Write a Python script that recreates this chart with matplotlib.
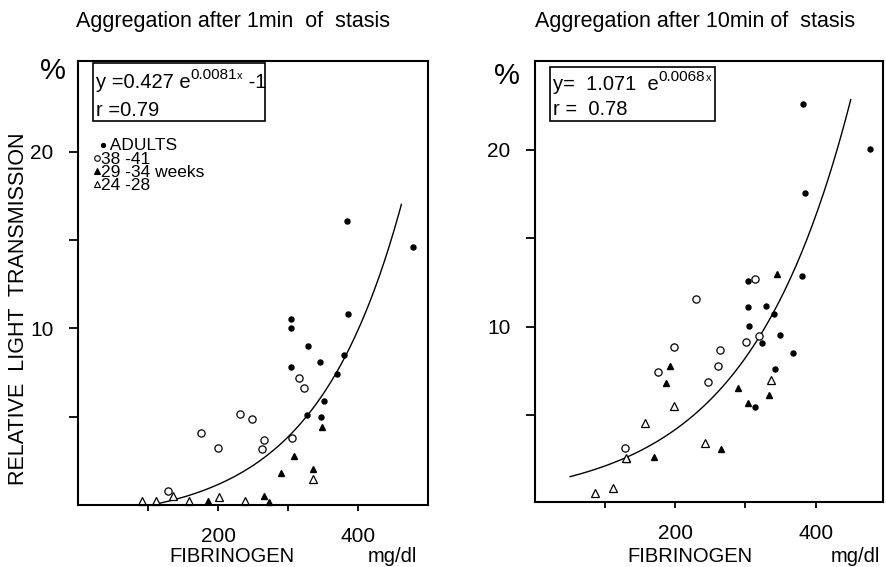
import matplotlib
matplotlib.use("Agg")
import matplotlib.pyplot as plt
import numpy as np
from matplotlib.lines import Line2D
from matplotlib.patches import Rectangle

plt.rcParams['font.family'] = ['Liberation Sans', 'DejaVu Sans']

# ---------------- data: left panel (1 min stasis) ----------------
L_adult_x = [304, 304, 329, 346, 304, 386, 380, 370, 351, 327, 347, 384, 479]
L_adult_y = [10.5, 10.0, 9.0, 8.1, 7.8, 10.8, 8.5, 7.4, 5.9, 5.1, 5.0, 16.1, 14.6]
L_term_x = [315, 323, 231, 248, 176, 200, 266, 263, 306, 128]
L_term_y = [7.2, 6.6, 5.15, 4.85, 4.05, 3.25, 3.7, 3.15, 3.8, 0.8]
L_mid_x = [348, 308, 290, 335, 266, 273, 185]
L_mid_y = [4.4, 2.8, 1.8, 2.05, 0.5, 0.15, 0.2]
L_pre_x = [335, 202, 136, 91, 111, 159, 238]
L_pre_y = [1.45, 0.47, 0.5, 0.2, 0.2, 0.2, 0.2]
# fitted curve y = a*exp(b*x) + c, coefficients as printed on the chart
L_fit = (0.427, 0.0081, -1.0)
L_fit_range = (117, 462)

# ---------------- data: right panel (10 min stasis) ----------------
R_adult_x = [303, 303, 329, 340, 305, 349, 324, 368, 342, 314, 382, 478, 385, 380]
R_adult_y = [12.6, 11.1, 11.15, 10.7, 10.05, 9.55, 9.05, 8.5, 7.6, 5.45, 22.6, 20.05, 17.55, 12.85]
R_term_x = [314, 229, 319, 301, 263, 198, 175, 261, 246, 128]
R_term_y = [12.7, 11.55, 9.45, 9.15, 8.7, 8.85, 7.4, 7.75, 6.85, 3.15]
R_mid_x = [345, 193, 187, 289, 304, 334, 265, 170, 131]
R_mid_y = [13.0, 7.75, 6.8, 6.5, 5.7, 6.1, 3.05, 2.6, 2.5]
R_pre_x = [336, 198, 157, 242, 86, 111, 130]
R_pre_y = [7.0, 5.5, 4.55, 3.4, 0.6, 0.85, 2.55]
R_fit = (1.071, 0.0068, 0.0)
R_fit_range = (50, 450)

legend_labels = ['ADULTS', '38 -41', '29 -34 weeks', '24 -28']

x_ticks = [100, 200, 300, 400]
x_ticklabels = ['', '200', '', '400']
y_ticks = [5, 10, 15, 20]
y_ticklabels = ['', '10', '', '20']

W, H = 886, 567
fig = plt.figure(figsize=(W / 100, H / 100), dpi=100)


def fx(px):
    return px / W


def fy(py):
    return 1 - py / H


def style_axes(ax, xmax, ylim):
    ax.set_xlim(0, xmax)
    ax.set_ylim(*ylim)
    for s in ax.spines.values():
        s.set_linewidth(1.5)
    ax.set_xticks(x_ticks)
    ax.set_xticklabels(x_ticklabels)
    ax.set_yticks(y_ticks)
    ax.set_yticklabels(y_ticklabels)
    ax.tick_params(axis='x', direction='out', length=4, width=1.3, pad=12, labelsize=15)
    ax.tick_params(axis='y', direction='out', length=6.5, width=1.3, pad=11, labelsize=15)


def draw(ax, ad, te, mi, pr, fit, rng):
    xs = np.linspace(rng[0], rng[1], 200)
    a, b, c = fit
    ax.plot(xs, a * np.exp(b * xs) + c, color='black', lw=1.0)
    ax.plot(ad[0], ad[1], 'o', color='black', ms=3.6, ls='none', clip_on=False)
    ax.plot(te[0], te[1], 'o', mfc='white', mec='black', mew=0.9, ms=5.2, ls='none', clip_on=False)
    ax.plot(mi[0], mi[1], '^', color='black', ms=4.6, ls='none', clip_on=False)
    ax.plot(pr[0], pr[1], '^', mfc='white', mec='black', mew=0.9, ms=5.6, ls='none', clip_on=False)


axL = fig.add_axes([fx(78), fy(505), (428 - 78) / W, (505 - 61) / H])
style_axes(axL, 500, (0, 25.13))
draw(axL, (L_adult_x, L_adult_y), (L_term_x, L_term_y), (L_mid_x, L_mid_y),
     (L_pre_x, L_pre_y), L_fit, L_fit_range)

axR = fig.add_axes([fx(535), fy(502), (883 - 535) / W, (502 - 61) / H])
style_axes(axR, 496, (0.07, 25.03))
draw(axR, (R_adult_x, R_adult_y), (R_term_x, R_term_y), (R_mid_x, R_mid_y),
     (R_pre_x, R_pre_y), R_fit, R_fit_range)

# titles
fig.text(fx(233), fy(22), 'Aggregation after 1min  of  stasis', ha='center', va='center', fontsize=15.5)
fig.text(fx(695), fy(22), 'Aggregation after 10min of  stasis', ha='center', va='center', fontsize=15.5)

# % signs
fig.text(fx(53), fy(71), '%', ha='center', va='center', fontsize=21)
fig.text(fx(507), fy(76), '%', ha='center', va='center', fontsize=21)

# y label
fig.text(fx(19), fy(309), 'RELATIVE  LIGHT  TRANSMISSION', rotation=90, ha='center', va='center', fontsize=15.5)

# x labels
for cx, ux in [(232, 392), (690, 855)]:
    fig.text(fx(cx), fy(557), 'FIBRINOGEN', ha='center', va='center', fontsize=14.5)
    fig.text(fx(ux), fy(557), 'mg/dl', ha='center', va='center', fontsize=14.5)

renderer = fig.canvas.get_renderer()


def chain(x_px, base_py, parts):
    """Place consecutive text pieces (text, size, raise_px) on one baseline."""
    x = x_px
    for txt, size, rise in parts:
        t = fig.text(fx(x), fy(base_py - rise), txt, ha='left', va='baseline', fontsize=size)
        bb = t.get_window_extent(renderer=renderer)
        x += bb.width


# equation boxes
fig.add_artist(Rectangle((fx(93), fy(121)), (265 - 93) / W, (121 - 63) / H,
                         transform=fig.transFigure, fill=False, lw=1.2, ec='black'))
chain(96, 88, [('y =0.427 e', 14.5, 0), ('0.0081', 11, 9), ('x', 8, 9), (' -1', 14.5, 0)])
chain(96, 116, [('r =0.79', 14.5, 0)])

fig.add_artist(Rectangle((fx(550), fy(121)), (715 - 550) / W, (121 - 67) / H,
                         transform=fig.transFigure, fill=False, lw=1.2, ec='black'))
chain(553, 90, [('y=  1.071  e', 14.5, 0), ('0.0068', 11, 9), ('x', 8, 9)])
chain(553, 115, [('r =  0.78', 14.5, 0)])

# legend (left panel): one multi-line text block with marker symbols beside it
leg_text = '  ' + legend_labels[0] + '\n' + '\n'.join(legend_labels[1:])
fig.text(fx(101), fy(138.5), leg_text, ha='left', va='top', fontsize=12.5, linespacing=0.85)
leg_markers = [
    ('o', 'black', 'black', 3.0, 102.5),
    ('o', 'white', 'black', 4.0, 97),
    ('^', 'black', 'black', 4.0, 97),
    ('^', 'white', 'black', 4.0, 97),
]
for i, (m, fc, ec, ms, mx) in enumerate(leg_markers):
    yy = 144.8 + i * 13.2
    fig.add_artist(Line2D([fx(mx)], [fy(yy)], marker=m, mfc=fc, mec=ec, ms=ms, mew=0.8,
                          ls='none', transform=fig.transFigure))

fig.savefig('out.png', dpi=100)
